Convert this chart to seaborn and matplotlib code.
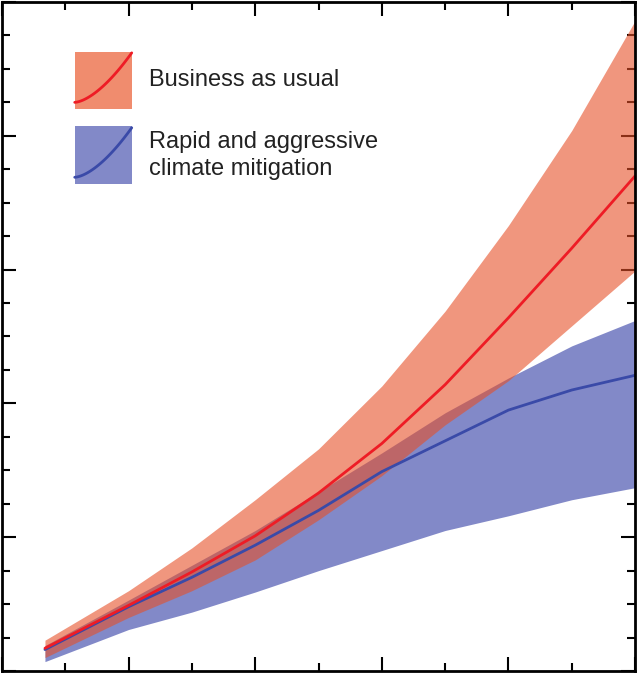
import matplotlib.pyplot as plt
import numpy as np
import pandas as pd
import seaborn as sns
from matplotlib.patches import Rectangle
from matplotlib.ticker import MultipleLocator

# values
years = [0.34, 1.0, 1.5, 2.0, 2.5, 3.0, 3.5, 4.0, 4.5, 5.0]
bau_mid = [0.17, 0.49, 0.74, 1.01, 1.33, 1.70, 2.14, 2.64, 3.16, 3.70]
bau_hi = [0.23, 0.60, 0.92, 1.28, 1.66, 2.13, 2.69, 3.33, 4.04, 4.86]
bau_lo = [0.10, 0.40, 0.60, 0.83, 1.13, 1.46, 1.84, 2.17, 2.58, 2.99]
mit_mid = [0.16, 0.48, 0.70, 0.94, 1.20, 1.49, 1.72, 1.95, 2.10, 2.21]
mit_hi = [0.19, 0.53, 0.79, 1.05, 1.34, 1.63, 1.93, 2.19, 2.43, 2.62]
mit_lo = [0.07, 0.31, 0.44, 0.59, 0.75, 0.90, 1.05, 1.16, 1.28, 1.37]

df = pd.DataFrame({"x": years, "bau": bau_mid, "mit": mit_mid})

sns.set_theme(style="white")
plt.rcParams['font.family'] = ['Liberation Sans', 'DejaVu Sans']

fig = plt.figure(figsize=(6.37, 6.73), dpi=100)
ax = fig.add_axes([0.003, 0.003, 0.994, 0.994])

red_fill = (230/255, 80/255, 40/255)
blue_fill = "#8289c8"

ax.fill_between(years, mit_lo, mit_hi, color=blue_fill, lw=0)
ax.fill_between(years, bau_lo, bau_hi, color=red_fill, alpha=0.6, lw=0)
sns.lineplot(data=df, x="x", y="mit", ax=ax, color="#3a4aa8", lw=2)
sns.lineplot(data=df, x="x", y="bau", ax=ax, color="#ee1c25", lw=2)

ax.set_xlim(0, 5)
ax.set_ylim(0, 5)
ax.xaxis.set_major_locator(MultipleLocator(1))
ax.xaxis.set_minor_locator(MultipleLocator(0.5))
ax.yaxis.set_major_locator(MultipleLocator(1))
ax.yaxis.set_minor_locator(MultipleLocator(0.25))
ax.tick_params(which="both", direction="in", top=True, right=True, bottom=True, left=True,
               labelbottom=False, labelleft=False, color="black", width=1.5)
ax.tick_params(which="major", length=10)
ax.tick_params(which="minor", length=6)
ax.set_xlabel("")
ax.set_ylabel("")
for s in ax.spines.values():
    s.set_color("black")
    s.set_linewidth(2)

# legend boxes
for y0, face, line, label in [
    (0.84, (240/255, 140/255, 110/255), "#ee1c25", "Business as usual"),
    (0.728, blue_fill, "#3a4aa8", "Rapid and aggressive\nclimate mitigation"),
]:
    ax.add_patch(Rectangle((0.115, y0), 0.09, 0.086, transform=ax.transAxes,
                           facecolor=face, edgecolor="none"))
    t = np.linspace(0, 1, 30)
    ax.plot(0.115 + 0.09 * t, y0 + 0.01 + 0.074 * t**1.6, transform=ax.transAxes,
            color=line, lw=2)
    ax.text(0.233, y0 + 0.043, label, transform=ax.transAxes, fontsize=17,
            va="center", ha="left", color="#222222", linespacing=1.3)

fig.savefig("out.png", dpi=100)
